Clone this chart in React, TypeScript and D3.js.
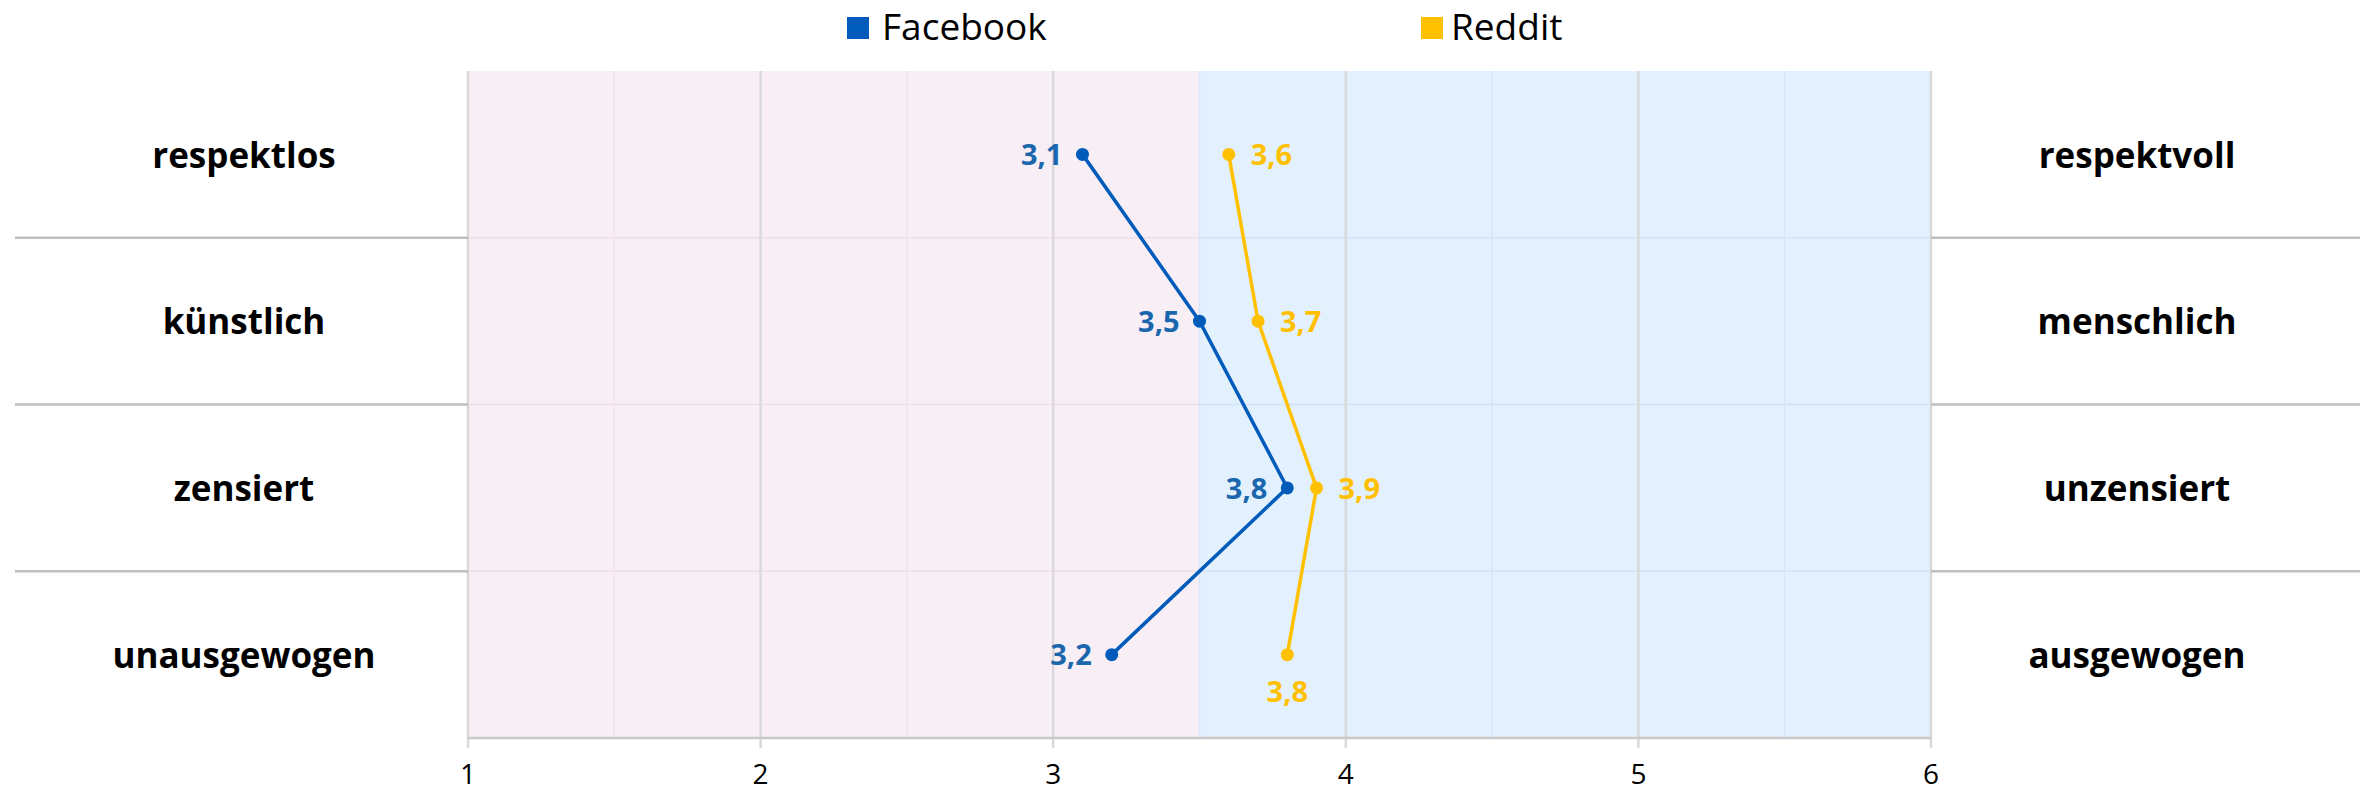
import { scaleLinear, scaleBand, line, range } from "d3";

const leftLabels = ["respektlos", "künstlich", "zensiert", "unausgewogen"];
const rightLabels = ["respektvoll", "menschlich", "unzensiert", "ausgewogen"];
const facebook = [3.1, 3.5, 3.8, 3.2];
const reddit = [3.6, 3.7, 3.9, 3.8];
const xTicks = [1, 2, 3, 4, 5, 6];

const W = 2360;
const H = 793;
const plot = { left: 468, right: 1931, top: 71, bottom: 738 };

const FB = "#005bbb";
const FB_LABEL = "#1a67ad";
const RD = "#ffc000";
const FONT = "'Open Sans', sans-serif";

const fmt = (v: number) => v.toFixed(1).replace(".", ",");

const App = () => {
  const x = scaleLinear().domain([1, 6]).range([plot.left, plot.right]);
  const y = scaleBand<string>()
    .domain(leftLabels)
    .range([plot.top, plot.bottom]);
  const cy = (i: number) => y(leftLabels[i])! + y.bandwidth() / 2;

  const path = line<number>()
    .x((d) => x(d))
    .y((_, i) => cy(i));

  const minor = range(1.5, 6, 1);
  const bounds = leftLabels.slice(1).map((c) => y(c)!);

  return (
    <svg
      width={W}
      height={H}
      style={{ position: "absolute", left: 0, top: 0, background: "#fff" }}
      fontFamily={FONT}
    >
      {/* background bands */}
      <rect x={x(1)} y={plot.top} width={x(3.5) - x(1)} height={plot.bottom - plot.top} fill="#f8eef6" />
      <rect x={x(3.5)} y={plot.top} width={x(6) - x(3.5)} height={plot.bottom - plot.top} fill="#e3f0fd" />

      {/* faint horizontal lines inside plot */}
      {bounds.map((b, i) => (
        <g key={i}>
          <line x1={x(1)} x2={x(3.5)} y1={b} y2={b} stroke="#f0dde9" strokeWidth={1.5} />
          <line x1={x(3.5)} x2={x(6)} y1={b} y2={b} stroke="#cfe3fb" strokeWidth={1.5} />
        </g>
      ))}

      {/* minor grid */}
      {minor.map((t) => (
        <line key={t} x1={x(t)} x2={x(t)} y1={plot.top} y2={plot.bottom} stroke={t < 3.5 ? "#efe3ec" : "#d6e7f9"} strokeWidth={1.5} />
      ))}
      {/* major grid */}
      {xTicks.map((t) => (
        <line key={t} x1={x(t)} x2={x(t)} y1={plot.top} y2={plot.bottom + 10} stroke="#d9d9d9" strokeWidth={2.5} />
      ))}
      {/* x axis */}
      <line x1={x(1)} x2={x(6)} y1={plot.bottom} y2={plot.bottom} stroke="#c8c8c8" strokeWidth={2.5} />
      {xTicks.map((t) => (
        <text key={t} x={x(t)} y={784} textAnchor="middle" fontSize={28} fill="#000">
          {t}
        </text>
      ))}

      {/* outer separators */}
      {bounds.map((b, i) => (
        <g key={i}>
          <line x1={15} x2={plot.left} y1={b} y2={b} stroke="#bfbfbf" strokeWidth={2.5} />
          <line x1={plot.right} x2={W} y1={b} y2={b} stroke="#bfbfbf" strokeWidth={2.5} />
        </g>
      ))}

      {/* side labels */}
      {leftLabels.map((c, i) => (
        <text key={c} x={244} y={cy(i) + 4} textAnchor="middle" dominantBaseline="middle" fontSize={35} fontWeight="bold" fill="#000">
          {c}
        </text>
      ))}
      {rightLabels.map((c, i) => (
        <text key={c} x={2137} y={cy(i) + 4} textAnchor="middle" dominantBaseline="middle" fontSize={35} fontWeight="bold" fill="#000">
          {c}
        </text>
      ))}

      {/* lines */}
      <path d={path(facebook)!} fill="none" stroke={FB} strokeWidth={3.5} />
      <path d={path(reddit)!} fill="none" stroke={RD} strokeWidth={3.5} />
      {facebook.map((v, i) => (
        <circle key={i} cx={x(v)} cy={cy(i)} r={6.5} fill={FB} />
      ))}
      {reddit.map((v, i) => (
        <circle key={i} cx={x(v)} cy={cy(i)} r={6.5} fill={RD} />
      ))}

      {/* data labels */}
      {facebook.map((v, i) => (
        <text key={i} x={x(v) - 20} y={cy(i) + 3} textAnchor="end" dominantBaseline="middle" fontSize={29} fontWeight="bold" fill={FB_LABEL}>
          {fmt(v)}
        </text>
      ))}
      {reddit.map((v, i) =>
        i === reddit.length - 1 ? (
          <text key={i} x={x(v)} y={cy(i) + 40} textAnchor="middle" dominantBaseline="middle" fontSize={29} fontWeight="bold" fill={RD}>
            {fmt(v)}
          </text>
        ) : (
          <text key={i} x={x(v) + 22} y={cy(i) + 3} textAnchor="start" dominantBaseline="middle" fontSize={29} fontWeight="bold" fill={RD}>
            {fmt(v)}
          </text>
        )
      )}

      {/* legend */}
      <rect x={847} y={17} width={22} height={22} fill={FB} />
      <text x={882} y={30} dominantBaseline="middle" fontSize={37} fill="#000">Facebook</text>
      <rect x={1421} y={17} width={22} height={22} fill={RD} />
      <text x={1451} y={30} dominantBaseline="middle" fontSize={37} fill="#000">Reddit</text>
    </svg>
  );
};

export default App;
